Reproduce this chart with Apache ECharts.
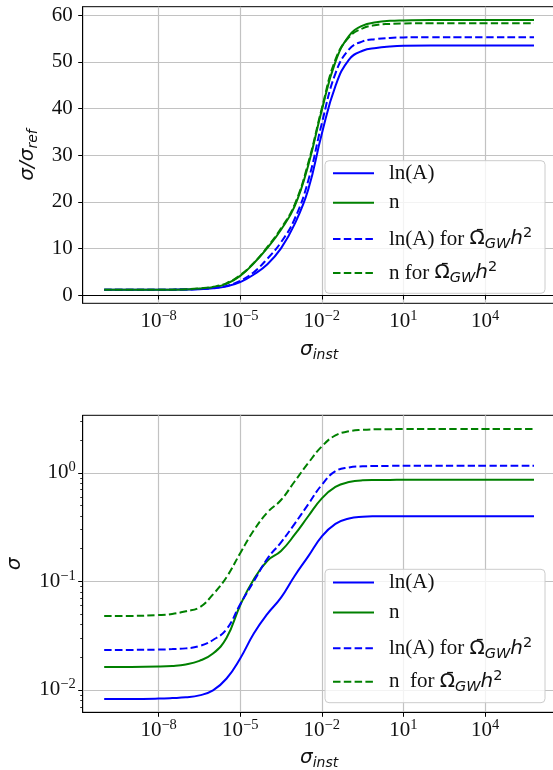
<!DOCTYPE html>
<html>
<head>
<meta charset="utf-8">
<script src="https://cdn.jsdelivr.net/npm/echarts@6/dist/echarts.min.js"></script>
<style>
html,body{margin:0;padding:0;background:#fff}
#chart{width:553px;height:770px}
</style>
</head>
<body>
<div id="chart"></div>
<script>
// sampled instrumental noise levels
const sigmaInst = [1e-10, 1e-9, 1e-8, 3.16e-8, 1e-7, 3.16e-7, 1e-6, 3.16e-6, 1e-5, 3.16e-5,
  1e-4, 3.16e-4, 1e-3, 3.16e-3, 1e-2, 3.16e-2, 0.1, 0.316, 1, 3.16, 10, 100, 1e3, 1e4, 1e5, 6.3e5];

// upper panel: sigma / sigma_ref
const ratioLnA = [1.12, 1.12, 1.13, 1.15, 1.17, 1.26, 1.44, 1.85, 2.75, 4.4, 6.6, 10.0, 15.2, 22.6,
  34.6, 44.8, 50.5, 52.4, 53.0, 53.3, 53.45, 53.5, 53.5, 53.5, 53.5, 53.5];
const ratioN = [1.12, 1.12, 1.13, 1.14, 1.18, 1.4, 1.65, 2.4, 4.1, 6.8, 10.1, 14.0, 19.0, 27.8,
  39.7, 50.0, 55.6, 57.8, 58.5, 58.8, 58.9, 59.0, 59.0, 59.0, 59.0, 59.0];
const ratioLnAGW = [1.12, 1.12, 1.13, 1.15, 1.17, 1.28, 1.5, 1.95, 3.05, 4.9, 7.8, 11.3, 16.3, 24.5,
  36.8, 47.5, 52.7, 54.4, 54.9, 55.15, 55.25, 55.3, 55.3, 55.3, 55.3, 55.3];
const ratioNGW = [1.12, 1.12, 1.13, 1.15, 1.22, 1.42, 1.75, 2.55, 4.25, 6.9, 10.3, 14.3, 19.4, 28.3,
  40.0, 50.5, 55.3, 57.2, 57.9, 58.15, 58.25, 58.3, 58.3, 58.3, 58.3, 58.3];

// lower panel: sigma
const sigmaLnA = [0.00826, 0.00826, 0.00832, 0.00841, 0.00855, 0.00891, 0.00989, 0.01274, 0.0195, 0.0331,
  0.0501, 0.0708, 0.1122, 0.170, 0.260, 0.339, 0.380, 0.394, 0.398, 0.399, 0.399, 0.399, 0.399, 0.399, 0.399, 0.399];
const sigmaN = [0.01629, 0.01629, 0.01641, 0.01663, 0.01718, 0.01854, 0.02163, 0.0302, 0.0603, 0.1047,
  0.1549, 0.1905, 0.269, 0.398, 0.582, 0.741, 0.822, 0.853, 0.859, 0.861, 0.862, 0.862, 0.862, 0.862, 0.862, 0.862];
const sigmaLnAGW = [0.02339, 0.02339, 0.02355, 0.02377, 0.02415, 0.02535, 0.02884, 0.0363, 0.0617, 0.100,
  0.162, 0.229, 0.339, 0.513, 0.776, 1.035, 1.122, 1.148, 1.156, 1.159, 1.160, 1.160, 1.160, 1.160, 1.160, 1.160];
const sigmaNGW = [0.0481, 0.0481, 0.0490, 0.0501, 0.0531, 0.0575, 0.0759, 0.1096, 0.182, 0.295,
  0.432, 0.562, 0.832, 1.230, 1.750, 2.213, 2.415, 2.489, 2.518, 2.526, 2.529, 2.529, 2.529, 2.529, 2.529, 2.529];

// tick positions
const xTicks = [1e-8, 1e-5, 1e-2, 10, 1e4];
const ratioTicks = [0, 10, 20, 30, 40, 50, 60];
const sigmaTicks = [0.01, 0.1, 1];
const sigmaMinorTicks = [0.007, 0.008, 0.009, 0.02, 0.03, 0.04, 0.05, 0.06, 0.07, 0.08, 0.09,
  0.2, 0.3, 0.4, 0.5, 0.6, 0.7, 0.8, 0.9, 2, 3];

const SERIF = '"Liberation Serif", serif';
const MATH = '"DejaVu Sans", sans-serif';
const BLUE = '#0000ff', GREEN = '#008000';
const DASH = [7.5, 3.3];
const INK = '#111';

const tickRich = {
  b: {fontFamily: SERIF, fontSize: 21, lineHeight: 26, color: INK},
  s: {fontFamily: SERIF, fontSize: 14.5, lineHeight: 16, verticalAlign: 'top', color: INK}
};
const mathRich = {
  m: {fontFamily: MATH, fontStyle: 'italic', fontSize: 20, lineHeight: 26, color: INK},
  sub: {fontFamily: MATH, fontStyle: 'italic', fontSize: 14, lineHeight: 16, verticalAlign: 'bottom', color: INK}
};
const legendRich = {
  t0: {fontFamily: SERIF, fontSize: 21, lineHeight: 26, color: INK, padding: [0, 0, 0, 10]},
  om: {fontFamily: MATH, fontSize: 20, lineHeight: 26, color: INK},
  sub: {fontFamily: MATH, fontStyle: 'italic', fontSize: 14.5, lineHeight: 16, verticalAlign: 'bottom', color: INK},
  it: {fontFamily: MATH, fontStyle: 'italic', fontSize: 20, lineHeight: 26, color: INK},
  sup: {fontFamily: MATH, fontSize: 14.5, lineHeight: 16, verticalAlign: 'top', color: INK}
};

function powLabel(v) {
  const e = Math.round(Math.log10(v));
  return '{b|10}{s|' + (e < 0 ? '\u2212' + (-e) : e) + '}';
}
const omegaPart = '{om|\u03A9\u0304}{sub|GW}{it|h}{sup|2}';

const xLogMin = Math.pow(10, -10.79), xLogMax = Math.pow(10, 6.59);

function xAxisFor(gridIndex, nameGap) {
  return {
    type: 'log', gridIndex: gridIndex, min: xLogMin, max: xLogMax,
    axisLine: {show: true, lineStyle: {color: '#000', width: 1}},
    axisTick: {show: true, length: 4.5, customValues: xTicks, lineStyle: {color: '#000', width: 1}},
    axisLabel: {customValues: xTicks, formatter: powLabel, margin: 5, rich: tickRich},
    splitLine: {show: true, lineStyle: {color: '#c2c2c2', width: 1.2}},
    minorTick: {show: false}, minorSplitLine: {show: false},
    name: '{m|\u03C3}{sub|inst}', nameLocation: 'middle', nameGap: nameGap,
    nameTextStyle: {rich: mathRich}
  };
}

function lineSeries(name, ys, color, dashed, idx) {
  return {
    type: 'line', name: name, xAxisIndex: idx, yAxisIndex: idx,
    data: sigmaInst.map((x, i) => [x, ys[i]]),
    symbol: 'none', showSymbol: false, smooth: 0.45,
    lineStyle: {color: color, width: 2, type: dashed ? DASH : 'solid'},
    itemStyle: {color: color}, z: 3, animation: false
  };
}

const legendLabels = {
  lnA: '{t0|ln(A)}',
  n: '{t0|n}',
  lnAGW: '{t0|ln(A) for }' + omegaPart
};
function legendItem(name, label, top) {
  return {
    data: [{name: name}], left: 332, top: top, padding: 0,
    itemWidth: 41, itemHeight: 14, selectedMode: false, z: 10,
    itemStyle: {opacity: 0, borderWidth: 0},
    formatter: () => label, textStyle: {rich: legendRich}
  };
}
const topRows = [175.7, 205.3, 239, 273];
const botRows = [585, 615, 648.3, 681.7];

const chart = echarts.init(document.getElementById('chart'), null, {renderer: 'canvas'});
chart.setOption({
  animation: false,
  backgroundColor: '#fff',
  grid: [
    {left: 82.7, right: -2.5, top: 6.7, height: 296.6, show: true, borderColor: '#000', borderWidth: 1,
      backgroundColor: 'transparent', outerBoundsMode: 'none'},
    {left: 82.7, right: -2.5, top: 415.3, height: 297, show: true, borderColor: '#000', borderWidth: 1,
      backgroundColor: 'transparent', outerBoundsMode: 'none'}
  ],
  xAxis: [xAxisFor(0, 33), xAxisFor(1, 32)],
  yAxis: [
    {
      type: 'value', gridIndex: 0, min: -1.78, max: 61.84,
      axisLine: {show: true, lineStyle: {color: '#000', width: 1}},
      axisTick: {show: true, length: 4.5, customValues: ratioTicks, lineStyle: {color: '#000'}},
      axisLabel: {customValues: ratioTicks, margin: 10, fontFamily: SERIF, fontSize: 21, color: INK},
      splitLine: {show: true, lineStyle: {color: '#c2c2c2', width: 1.2}},
      name: '{m|\u03C3/\u03C3}{sub|ref}', nameLocation: 'middle', nameGap: 27, nameRotate: 90,
      nameTextStyle: {rich: mathRich}
    },
    {
      type: 'log', gridIndex: 1, min: Math.pow(10, -2.206), max: Math.pow(10, 0.53),
      axisLine: {show: true, lineStyle: {color: '#000', width: 1}},
      axisTick: {show: true, length: 4.5, customValues: sigmaTicks, lineStyle: {color: '#000'}},
      axisLabel: {customValues: sigmaTicks, formatter: powLabel, margin: 7, rich: tickRich},
      splitLine: {show: true, lineStyle: {color: '#c2c2c2', width: 1.2}},
      minorTick: {show: false},
      name: '{m|\u03C3}', nameLocation: 'middle', nameGap: 55, nameRotate: 90,
      nameTextStyle: {rich: mathRich}
    },
    {
      type: 'log', gridIndex: 1, min: Math.pow(10, -2.206), max: Math.pow(10, 0.53), position: 'left',
      axisLine: {show: false},
      axisTick: {show: true, length: 2.5, customValues: sigmaMinorTicks, lineStyle: {color: '#000', width: 0.8}},
      axisLabel: {show: false}, splitLine: {show: false}
    }
  ],
  graphic: [
    {type: 'rect', z: 5, shape: {x: 325, y: 160.7, width: 220, height: 132.6, r: 4},
      style: {fill: 'rgba(255,255,255,0.8)', stroke: '#cccccc', lineWidth: 1}},
    {type: 'rect', z: 5, shape: {x: 325, y: 569.3, width: 220, height: 133.4, r: 4},
      style: {fill: 'rgba(255,255,255,0.8)', stroke: '#cccccc', lineWidth: 1}}
  ],
  legend: [
    legendItem('lnA', legendLabels.lnA, topRows[0] - 13),
    legendItem('n', legendLabels.n, topRows[1] - 13),
    legendItem('lnAGW', legendLabels.lnAGW, topRows[2] - 13),
    legendItem('nGW', '{t0|n for }' + omegaPart, topRows[3] - 13),
    legendItem('lnA', legendLabels.lnA, botRows[0] - 13),
    legendItem('n', legendLabels.n, botRows[1] - 13),
    legendItem('lnAGW', legendLabels.lnAGW, botRows[2] - 13),
    legendItem('nGW', '{t0|n\u00A0 for }' + omegaPart, botRows[3] - 13)
  ],
  series: [
    lineSeries('lnA', ratioLnA, BLUE, false, 0),
    lineSeries('n', ratioN, GREEN, false, 0),
    lineSeries('lnAGW', ratioLnAGW, BLUE, true, 0),
    lineSeries('nGW', ratioNGW, GREEN, true, 0),
    lineSeries('lnA', sigmaLnA, BLUE, false, 1),
    lineSeries('n', sigmaN, GREEN, false, 1),
    lineSeries('lnAGW', sigmaLnAGW, BLUE, true, 1),
    lineSeries('nGW', sigmaNGW, GREEN, true, 1)
  ]
});
</script>
</body>
</html>
